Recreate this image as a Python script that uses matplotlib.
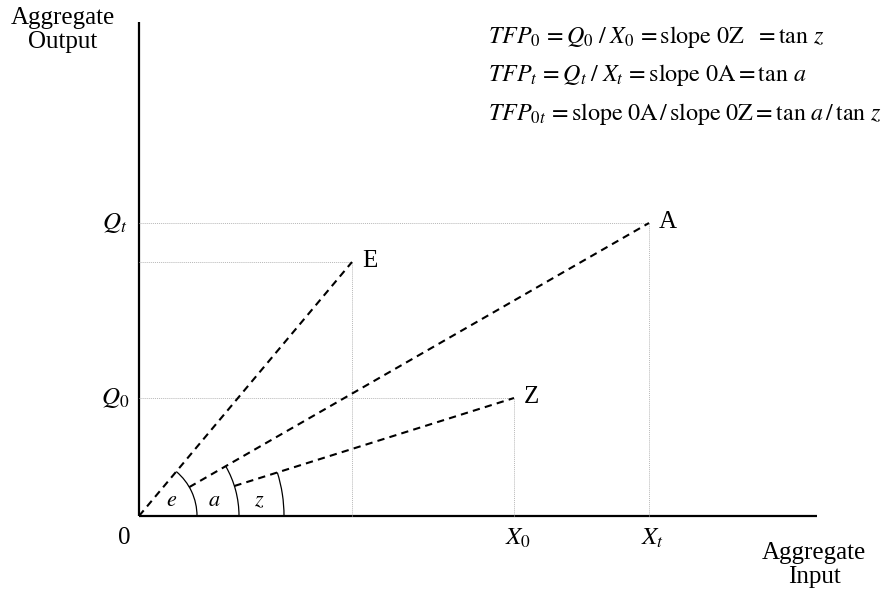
import numpy as np
import matplotlib.pyplot as plt
from matplotlib.patches import Arc

plt.rcParams['font.family'] = 'Liberation Serif'
plt.rcParams['mathtext.fontset'] = 'stix'

# Points of the diagram (input, output), origin at 0
point_names = ['E', 'A', 'Z']
input_vals = [213, 510, 375]
output_vals = [254, 293, 118]

# angle arcs: label, radius, point the arc runs up to
arc_labels = ['e', 'a', 'z']
arc_radius = [58, 100, 145]
arc_to = ['E', 'A', 'Z']

# dashed rays start on the previous arc
ray_start = {'E': 0, 'A': 58, 'Z': 100}

x_ticks = {'Z': r'$X_0$', 'A': r'$X_t$'}
y_ticks = {'Z': r'$Q_0$', 'A': r'$Q_t$'}

equations = [
    r'$TFP_0\, =Q_0\;/\;X_0\, = \mathrm{slope\ 0Z\ \ = tan}\ z$',
    r'$TFP_t\, =Q_t\;/\;X_t\, = \mathrm{slope\ 0A = tan}\ a$',
    r'$TFP_{0t}\, = \mathrm{slope\ 0A}\,/\,\mathrm{slope\ 0Z} = \mathrm{tan}\ a\,/\,\mathrm{tan}\ z$',
]

pts = dict(zip(point_names, zip(input_vals, output_vals)))

fig = plt.figure(figsize=(8.94, 5.97), dpi=100)
ax = fig.add_axes([0, 0, 1, 1])
ax.set_xlim(-139, 894 - 139)
ax.set_ylim(-(597 - 516), 516)
ax.axis('off')

fs = 18

# axes
ax.plot([0, 678], [0, 0], color='black', lw=1.6, solid_capstyle='butt')
ax.plot([0, 0], [0, 494], color='black', lw=1.6, solid_capstyle='butt')

# guide lines
for name in point_names:
    x, y = pts[name]
    ax.plot([0, x], [y, y], color='#b8b8b8', lw=0.7, ls=(0, (1, 1)))
    ax.plot([x, x], [0, y], color='#b8b8b8', lw=0.7, ls=(0, (1, 1)))

# dashed rays
for name in point_names:
    x, y = pts[name]
    ang = np.arctan2(y, x)
    r0 = ray_start[name]
    ax.plot([r0 * np.cos(ang), x], [r0 * np.sin(ang), y], color='black',
            lw=1.5, dashes=(3.5, 2.5))

# angle arcs
for lab, r, name in zip(arc_labels, arc_radius, arc_to):
    x, y = pts[name]
    ang = np.degrees(np.arctan2(y, x))
    ax.add_patch(Arc((0, 0), 2 * r, 2 * r, theta1=0, theta2=ang,
                     color='black', lw=0.9))
    ax.text(r - 25, 14, '$' + lab + '$', fontsize=16, ha='center', va='center')

# point labels
for name in point_names:
    x, y = pts[name]
    ax.text(x + 10, y + 1, name, fontsize=fs, ha='left', va='center')

for name, lab in x_ticks.items():
    ax.text(pts[name][0] + 4, -22, lab, fontsize=fs, ha='center', va='center')
for name, lab in y_ticks.items():
    ax.text(-24, pts[name][1], lab, fontsize=fs, ha='center', va='center')
ax.text(-15, -22, '0', fontsize=fs, ha='center', va='center')

ax.text(-76, 486, 'Aggregate\nOutput', fontsize=fs, ha='center', va='center',
        linespacing=1.15)
ax.text(675, -49, 'Aggregate\nInput', fontsize=fs, ha='center', va='center',
        linespacing=1.15)

for i, eq in enumerate(equations):
    ax.text(349, 479 - 38.5 * i, eq, fontsize=17.3, ha='left', va='center')

plt.savefig('out.png', dpi=100)
